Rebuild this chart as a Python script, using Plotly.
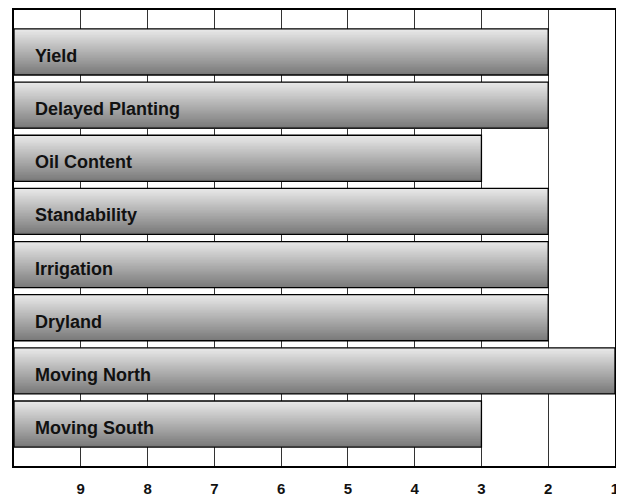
import plotly.graph_objects as go

categories = ["Yield", "Delayed Planting", "Oil Content", "Standability",
              "Irrigation", "Dryland", "Moving North", "Moving South"]
values = [2, 2, 3, 2, 2, 2, 1, 3]
tick_values = [9, 8, 7, 6, 5, 4, 3, 2, 1]
tick_labels = ["9", "8", "7", "6", "5", "4", "3", "2", "1"]

AXIS_START = 10
bar_width = 0.866
n_strips = 30
top_rgb = (232, 232, 232)
bot_rgb = (122, 122, 122)
FONT = "Arial, Liberation Sans, sans-serif"

fig = go.Figure()
lengths = [v - AXIS_START for v in values]
step = bar_width / n_strips
for k in range(n_strips):
    t = k / (n_strips - 1)
    c = tuple(round(top_rgb[i] + (bot_rgb[i] - top_rgb[i]) * t) for i in range(3))
    fig.add_trace(go.Bar(
        y=categories, x=lengths, base=AXIS_START, orientation="h",
        width=bar_width - k * step,
        offset=-bar_width / 2 + k * step,
        marker=dict(color="rgb(%d,%d,%d)" % c, line=dict(width=0)),
        showlegend=False, hoverinfo="skip",
    ))
# outline
fig.add_trace(go.Bar(
    y=categories, x=lengths, base=AXIS_START, orientation="h",
    width=bar_width, offset=-bar_width / 2,
    marker=dict(color="rgba(0,0,0,0)", line=dict(color="black", width=1.3)),
    showlegend=False, hoverinfo="skip",
))

for cat in categories:
    fig.add_annotation(x=0, xref="paper", y=cat, yref="y", text="<b>%s</b>" % cat,
                       xanchor="left", xshift=19, yshift=-4, showarrow=False,
                       font=dict(family=FONT, size=18, color="#111"))

fig.update_layout(
    width=616, height=488,
    margin=dict(l=6, r=9, t=2, b=30, pad=0, autoexpand=False),
    barmode="overlay",
    plot_bgcolor="white", paper_bgcolor="white",
    xaxis=dict(range=[AXIS_START, 1], tickvals=tick_values,
               ticktext=["<b>%s</b>" % s for s in tick_labels],
               showgrid=True, gridcolor="#333", gridwidth=1,
               showline=True, linecolor="black", linewidth=2, mirror=True,
               zeroline=False, ticks="", ticklabelstandoff=8, automargin=False,
               tickfont=dict(family=FONT, size=15, color="#111")),
    yaxis=dict(range=[7.79, -0.79], showticklabels=False, showgrid=False,
               showline=True, linecolor="black", linewidth=2, mirror=True,
               zeroline=False, ticks=""),
)

fig.write_html("out.html")
